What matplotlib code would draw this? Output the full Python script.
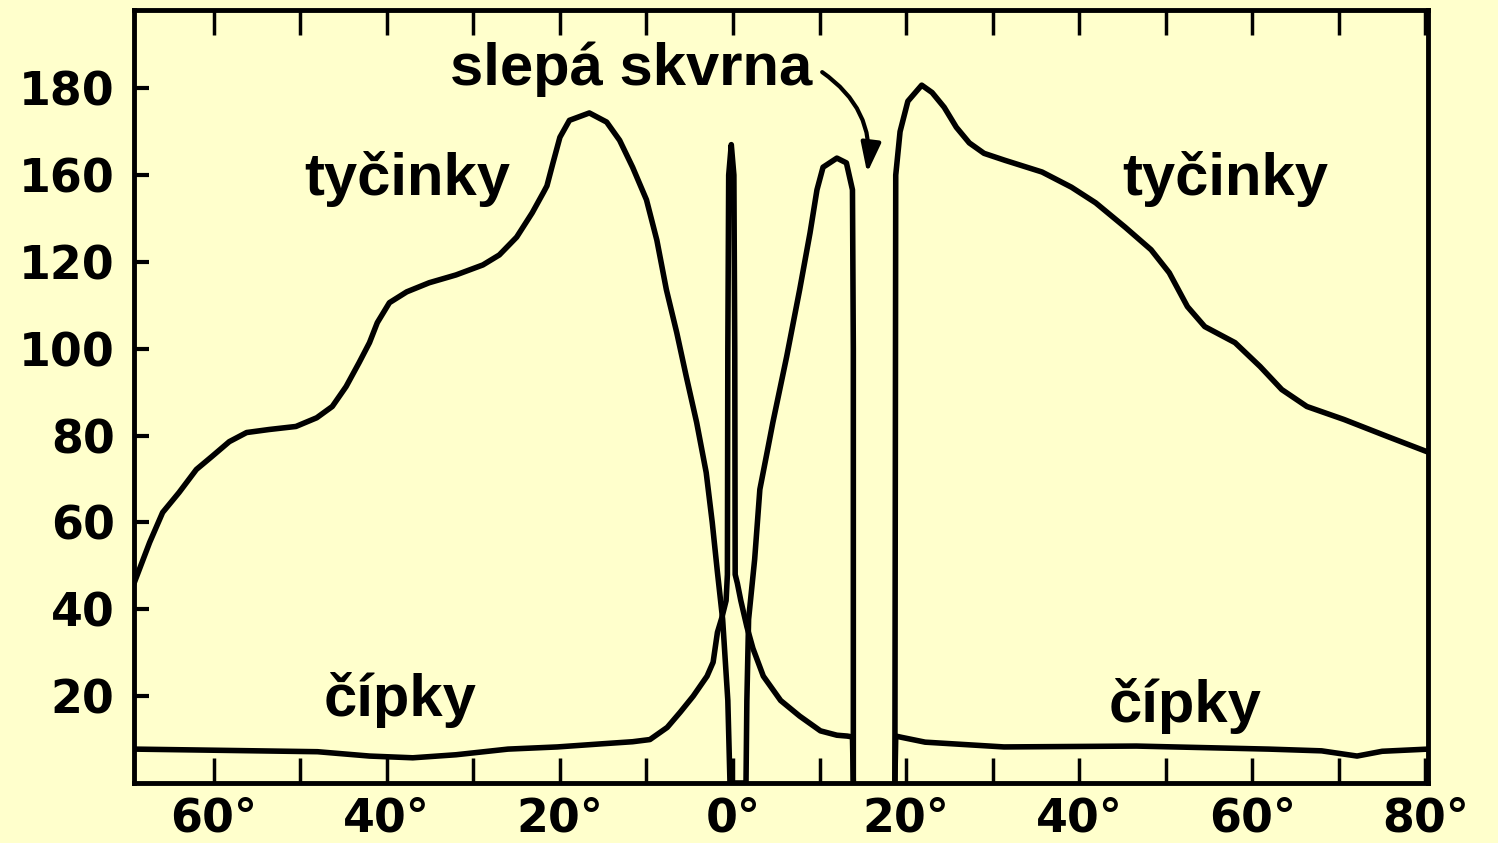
import numpy as np
import matplotlib.pyplot as plt

# Angle from the fovea (deg, temporal side negative) and receptor density.
# Density is kept in axis units; the original figure labels the ticks
# 20..120, 160, 180 (140 is skipped), so the labels are given separately.
ROD_DEG = [
    -69.2, -67.4, -65.9, -64.0, -62.0, -60.2, -58.2, -56.2, -53.6, -50.5,
    -48.1, -46.3, -44.7, -43.2, -42.0, -41.1, -39.7, -37.7, -35.1, -32.0,
    -28.9, -27.0, -25.0, -23.2, -21.9, -21.5, -20.8, -20.0, -18.9, -16.6,
    -14.6, -13.1, -11.6, -10.0, -8.8, -7.7, -6.5, -5.4, -4.2, -3.1,
    -2.4, -1.8, -1.2, -0.6, -0.35,
    1.5, 1.6, 1.8, 2.5, 3.1, 4.0, 4.6, 6.2, 7.7, 8.9,
    9.7, 10.4, 12.0, 13.1, 13.8, 13.9, 13.9,
    np.nan,
    18.7, 18.8, 19.3, 20.2, 21.8, 23.0, 24.4, 25.8, 27.3, 29.0,
    31.4, 35.7, 39.1, 41.9, 45.3, 48.3, 50.4, 52.5, 54.5, 58.0,
    60.9, 63.4, 66.3, 70.6, 75.6, 80.3,
]
ROD_VAL = [
    46.0, 55.4, 62.3, 66.9, 72.2, 75.2, 78.6, 80.7, 81.4, 82.1,
    84.1, 86.7, 91.3, 96.8, 101.4, 106.0, 110.6, 113.1, 115.2, 117.0,
    119.3, 121.6, 125.7, 131.3, 136.0, 137.5, 142.8, 148.7, 152.6, 154.3,
    152.2, 148.0, 141.8, 134.3, 125.0, 113.6, 103.7, 93.6, 83.0, 71.5,
    60.0, 48.5, 37.7, 19.0, 0.0,
    0.0, 19.0, 37.7, 51.5, 67.6, 76.8, 83.0, 98.2, 113.6, 126.7,
    136.6, 141.8, 143.9, 142.8, 136.6, 100.0, 0.0,
    np.nan,
    0.0, 140.0, 150.0, 157.0, 160.7, 159.0, 155.6, 151.0, 147.4, 145.0,
    143.4, 140.7, 137.2, 133.6, 128.0, 122.8, 117.5, 109.7, 105.1, 101.4,
    95.9, 90.6, 86.7, 83.7, 79.8, 76.2,
]

CONE_DEG = [
    -69.2, -62.0, -55.0, -48.0, -42.0, -37.0, -32.0, -26.0, -20.3, -15.3,
    -11.6, -9.6, -7.6, -6.1, -4.6, -3.0, -2.3, -1.8, -1.3, -0.8,
    -0.65, -0.6, -0.5, -0.2, 0.1, 0.2, 0.25,
    0.5, 0.9, 1.6, 2.3, 3.5, 5.5, 7.7, 10.1, 12.0, 13.2, 13.8, 13.9,
    np.nan,
    18.7, 18.8, 19.5, 22.2, 31.3, 46.6, 61.9, 68.0, 72.1, 75.0, 80.3,
]
CONE_VAL = [
    7.8, 7.6, 7.4, 7.2, 6.2, 5.8, 6.5, 7.8, 8.3, 9.0,
    9.5, 10.0, 12.8, 16.3, 20.0, 24.6, 27.8, 34.7, 38.0, 42.0,
    48.0, 100.0, 140.0, 147.0, 140.0, 100.0, 48.0,
    46.0, 42.0, 36.0, 31.0, 24.6, 19.0, 15.4, 12.0, 11.0, 10.8, 10.6, 0.0,
    np.nan,
    0.0, 10.8, 10.5, 9.4, 8.3, 8.5, 7.8, 7.4, 6.2, 7.3, 7.8,
]

Y_TICKS = [20, 40, 60, 80, 100, 120, 140, 160]
Y_LABELS = ["20", "40", "60", "80", "100", "120", "160", "180"]
X_MAJOR = [-60, -40, -20, 0, 20, 40, 60, 80]
X_LABELS = ["60°", "40°", "20°", "0°", "20°", "40°", "60°", "80°"]
X_MINOR = [-50, -30, -10, 10, 30, 50, 70]

BG = "#ffffcc"

fig = plt.figure(figsize=(14.98, 8.43), dpi=100, facecolor=BG)
ax = fig.add_axes([0.0895, 0.0712, 0.8638, 0.9169], facecolor=BG)

ax.plot(ROD_DEG, ROD_VAL, color="black", lw=4, solid_joinstyle="round")
ax.plot(CONE_DEG, CONE_VAL, color="black", lw=4, solid_joinstyle="round")

ax.set_xlim(-69.2, 80.3)
ax.set_ylim(0, 178)

for s in ax.spines.values():
    s.set_linewidth(3.5)

ax.set_yticks(Y_TICKS)
ax.set_yticklabels(Y_LABELS)
ax.set_xticks(X_MAJOR)
ax.set_xticklabels(X_LABELS)
ax.set_xticks(X_MINOR, minor=True)

tick_font = dict(family="DejaVu Sans", weight="bold", size=33)
for lab in ax.get_xticklabels() + ax.get_yticklabels():
    lab.set_fontproperties(plt.matplotlib.font_manager.FontProperties(**tick_font))

ax.tick_params(axis="y", direction="in", length=11, width=3, pad=14)
ax.tick_params(axis="x", which="both", direction="in", length=18, width=2.5,
               top=True, pad=10)

label_font = dict(family="Liberation Sans", weight="bold", size=43,
                  ha="center", va="baseline")
ax.text(-37.6, 135.4, "tyčinky", **label_font)
ax.text(56.9, 135.4, "tyčinky", **label_font)
ax.text(-38.5, 15.4, "čípky", **label_font)
ax.text(52.2, 14.0, "čípky", **label_font)
ax.text(-11.8, 160.7, "slepá skvrna", **label_font)

ax.annotate("", xy=(15.5, 140.5), xytext=(10.3, 163.7),
            arrowprops=dict(arrowstyle="-|>,head_length=0.6,head_width=0.2",
                            connectionstyle="arc3,rad=-0.3", lw=3,
                            color="black", mutation_scale=30,
                            shrinkA=0, shrinkB=0))

fig.savefig("out.png", dpi=100, facecolor=BG)
